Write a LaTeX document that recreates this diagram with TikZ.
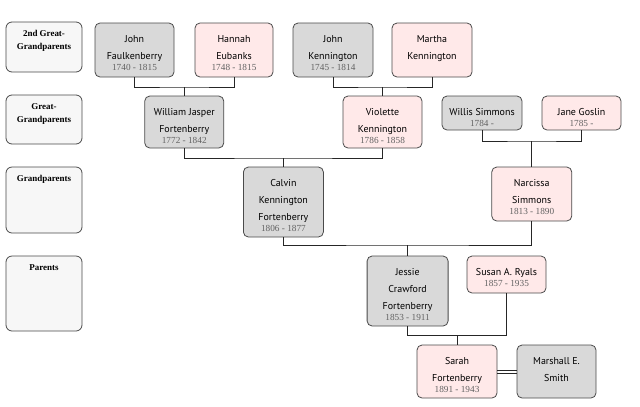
\documentclass[tikz,border=0pt]{standalone}
\usepackage{fontspec}
\setmainfont{Liberation Serif}
\newfontfamily\namefam{PT Sans}
\usetikzlibrary{calc}
\definecolor{boxgray}{HTML}{D9D9D9}
\definecolor{boxpink}{HTML}{FFE9E9}
\definecolor{levelfill}{HTML}{F7F7F7}
\definecolor{edgecol}{HTML}{4A4A4A}
\definecolor{datecol}{HTML}{626262}
\newcommand\nmfont{\namefam\fontsize{10}{17}\selectfont}
\newcommand\dtline[1]{\\[-5.5bp]{\rmfamily\fontsize{9.3}{12}\selectfont\color{datecol}#1}}
\newcommand\nstrut{\rule{0pt}{8bp}}
\newcommand\lstrut{\rule{0pt}{7bp}}
\begin{document}
\begin{tikzpicture}[x=1bp,y=-1bp,
  person/.style={draw=edgecol, line width=0.8bp, rounded corners=5bp, inner sep=0pt},
  male/.style={person, fill=boxgray},
  female/.style={person, fill=boxpink},
  nametext/.style={align=center, font=\nmfont, inner sep=0pt, anchor=north, yshift=-11.5bp},
  levelbox/.style={draw=edgecol, line width=0.8bp, rounded corners=6bp, fill=levelfill, minimum width=76bp, inner sep=0pt},
  leveltext/.style={align=center, font=\fontsize{9}{13}\selectfont\bfseries, inner sep=0pt, anchor=north, yshift=-8bp},
  link/.style={draw=black!85, line width=0.8bp}]
\useasboundingbox (0,0) rectangle (640,406);

% level boxes
\node[levelbox, minimum height=50bp] (l1) at (44,47) {};
\node[leveltext] (l1t) at (l1.north) {\lstrut 2nd Great-\\Grandparents};
\node[levelbox, minimum height=49bp] (l2) at (44,119.5) {};
\node[leveltext] (l2t) at (l2.north) {\lstrut Great-\\Grandparents};
\node[levelbox, minimum height=66bp] (l3) at (44,200) {};
\node[leveltext] (l3t) at (l3.north) {\lstrut Grandparents};
\node[levelbox, minimum height=75bp] (l4) at (44,293.5) {};
\node[leveltext] (l4t) at (l4.north) {\lstrut Parents};

% 2nd great-grandparents
\node[male, minimum width=79bp, minimum height=54bp] (jf) at (134.5,50) {};
\node[nametext] (jft) at (jf.north) {\nstrut John\\Faulkenberry\dtline{1740 - 1815}};
\node[female, minimum width=78bp, minimum height=54bp] (he) at (234,50) {};
\node[nametext] (het) at (he.north) {\nstrut Hannah\\Eubanks\dtline{1748 - 1815}};
\node[male, minimum width=80bp, minimum height=54bp] (jk) at (333,50) {};
\node[nametext] (jkt) at (jk.north) {\nstrut John\\Kennington\dtline{1745 - 1814}};
\node[female, minimum width=80bp, minimum height=54bp] (mk) at (432,50) {};
\node[nametext] (mkt) at (mk.north) {\nstrut Martha\\Kennington};

% great-grandparents
\node[male, minimum width=79bp, minimum height=52bp] (wj) at (184.25,122) {};
\node[nametext] (wjt) at (wj.north) {\nstrut William Jasper\\Fortenberry\dtline{1772 - 1842}};
\node[female, minimum width=79bp, minimum height=52bp] (vk) at (382.5,122) {};
\node[nametext] (vkt) at (vk.north) {\nstrut Violette\\Kennington\dtline{1786 - 1858}};
\node[male, minimum width=80bp, minimum height=34bp] (ws) at (482,113) {};
\node[nametext] (wst) at (ws.north) {\nstrut Willis Simmons\dtline{1784 -}};
\node[female, minimum width=79bp, minimum height=34bp] (jg) at (581.5,113) {};
\node[nametext] (jgt) at (jg.north) {\nstrut Jane Goslin\dtline{1785 -}};

% grandparents
\node[male, minimum width=80bp, minimum height=70bp] (ck) at (283.4,202) {};
\node[nametext] (ckt) at (ck.north) {\nstrut Calvin\\Kennington\\Fortenberry\dtline{1806 - 1877}};
\node[female, minimum width=80bp, minimum height=54bp] (ns) at (531.75,194) {};
\node[nametext] (nst) at (ns.north) {\nstrut Narcissa\\Simmons\dtline{1813 - 1890}};

% parents
\node[male, minimum width=81bp, minimum height=70bp] (jc) at (407.6,291) {};
\node[nametext] (jct) at (jc.north) {\nstrut Jessie\\Crawford\\Fortenberry\dtline{1853 - 1911}};
\node[female, minimum width=79bp, minimum height=37bp] (sr) at (506.5,274.5) {};
\node[nametext] (srt) at (sr.north) {\nstrut Susan A. Ryals\dtline{1857 - 1935}};

% self + spouse
\node[female, minimum width=80bp, minimum height=53bp] (sf) at (457,371.5) {};
\node[nametext] (sft) at (sf.north) {\nstrut Sarah\\Fortenberry\dtline{1891 - 1943}};
\node[male, minimum width=79bp, minimum height=53bp] (ms) at (556.5,371.5) {};
\node[nametext] (mst) at (ms.north) {\nstrut Marshall E.\\Smith};

% connectors
\coordinate (c1) at (184.25,87);
\coordinate (c2) at (382.5,87);
\coordinate (c3) at (531.75,141);
\coordinate (c4) at (283.4,158);
\coordinate (c5) at (407.6,245);
\coordinate (c6) at (457,335);
\draw[link] (jf.south) |- (c1) -| (he.south);
\draw[link] (c1) -- (wj.north);
\draw[link] (jk.south) |- (c2) -| (mk.south);
\draw[link] (c2) -- (vk.north);
\draw[link] (ws.south) |- (c3) -| (jg.south);
\draw[link] (c3) -- (ns.north);
\draw[link] (wj.south) |- (c4) -| (vk.south);
\draw[link] (c4) -- (ck.north);
\draw[link] (ck.south) |- (c5) -| (ns.south);
\draw[link] (c5) -- (jc.north);
\draw[link] (jc.south) |- (c6) -| (sr.south);
\draw[link] (c6) -- (sf.north);
\draw[link] ([yshift=1.5bp]sf.east) -- ([yshift=1.5bp]ms.west);
\draw[link] ([yshift=-1.5bp]sf.east) -- ([yshift=-1.5bp]ms.west);
\end{tikzpicture}
\end{document}
